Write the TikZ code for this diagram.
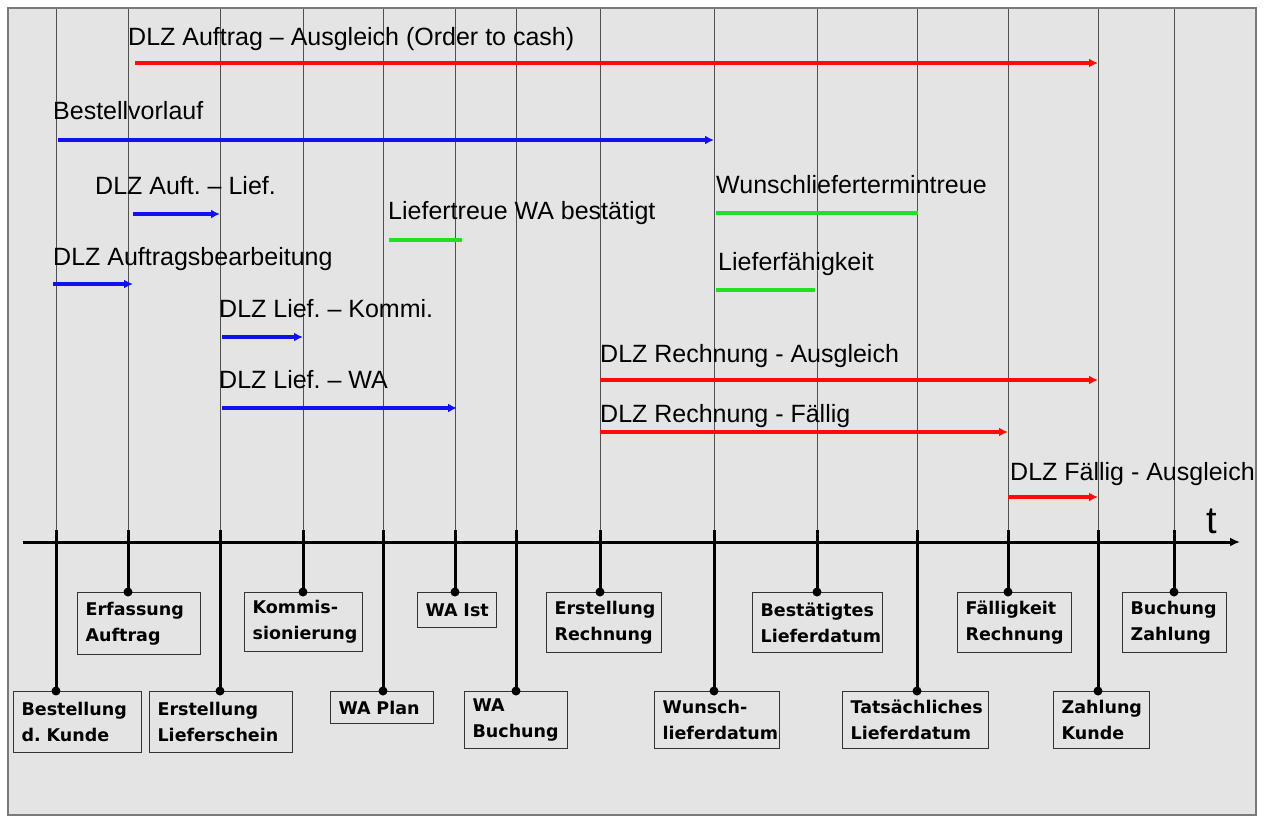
\documentclass[tikz,border=0pt]{standalone}
\usepackage{fontspec}
\setmainfont{Liberation Sans}
\newfontfamily\boxfont{DejaVu Sans}
\usetikzlibrary{arrows.meta}
\frenchspacing
\definecolor{bgcol}{HTML}{E4E4E4}
\definecolor{framecol}{HTML}{7A7A7A}
\definecolor{gridcol}{HTML}{505050}
\definecolor{myred}{HTML}{FF0A0A}
\definecolor{myblue}{HTML}{1010F0}
\definecolor{mygreen}{HTML}{20E020}
\tikzset{
  lbl/.style={anchor=base west, inner sep=0pt, font=\fontsize{25}{30}\selectfont},
  thinv/.style={draw=gridcol, line width=1pt},
  stem/.style={draw=black, line width=3pt},
  dotc/.style={fill=black},
  evbox/.style={draw=black!80, line width=1.2pt, anchor=north west, align=left,
    inner xsep=8pt, inner ysep=2pt, font=\boxfont\bfseries\fontsize{17.5}{26}\selectfont},
  arr/.style={line width=3.5pt, -{Latex[length=9pt,width=9pt]}},
  redarr/.style={arr, draw=myred},
  bluearr/.style={arr, draw=myblue},
  greenln/.style={line width=3.5pt, draw=mygreen},
}
\begin{document}
\begin{tikzpicture}[x=1pt,y=-1pt]
\useasboundingbox (0,0) rectangle (1266,817);
\fill[white] (0,0) rectangle (1266,817);
\draw[draw=framecol, fill=bgcol, line width=1.5pt] (8,8) rectangle (1256,815);

% thin vertical time lines
\foreach \n/\x in {A/56,B/128,C/220,D/303,E/383,F/455,G/516,H/600,I/714,J/817,K/917,L/1008,M/1098,N/1174}{
  \coordinate (top\n) at (\x,9);
  \coordinate (ax\n) at (\x,542);
  \coordinate (k\n) at (\x,530);
  \draw[thinv] (top\n) -- (ax\n);
}

% time axis
\coordinate (axs) at (23,542);
\coordinate (axe) at (1240,542);
\draw[line width=3pt, -{Latex[length=10pt,width=9pt]}] (axs) -- (axe);
\node[anchor=base west, inner sep=0pt, font=\fontsize{38}{40}\selectfont] (tlab) at (1206,533) {t};

% event boxes, upper row
\node[evbox, minimum width=123pt, minimum height=62pt, text width=107pt] (bB) at (77,592) {Erfassung\\Auftrag};
\node[evbox, minimum width=118pt, minimum height=59pt, text width=102pt] (bD) at (244,592) {Kommis-\\sionierung};
\node[evbox, minimum width=79pt, minimum height=35pt, text width=63pt] (bF) at (417,592) {WA~Ist};
\node[evbox, minimum width=115pt, minimum height=60pt, text width=99pt] (bH) at (546,592) {Erstellung\\Rechnung};
\node[evbox, minimum width=130pt, minimum height=60pt, text width=114pt] (bJ) at (752,592) {Bestätigtes\\Lieferdatum};
\node[evbox, minimum width=114pt, minimum height=60pt, text width=98pt] (bL) at (957,592) {Fälligkeit\\Rechnung};
\node[evbox, minimum width=104pt, minimum height=60pt, text width=88pt] (bN) at (1122,592) {Buchung\\Zahlung};
% lower row
\node[evbox, minimum width=128pt, minimum height=61pt, text width=112pt] (bA) at (13,691) {Bestellung\\d. Kunde};
\node[evbox, minimum width=143pt, minimum height=61pt, text width=127pt] (bC) at (149,691) {Erstellung\\Lieferschein};
\node[evbox, minimum width=103pt, minimum height=32pt, text width=87pt] (bE) at (330,691) {WA~Plan};
\node[evbox, minimum width=103pt, minimum height=57pt, text width=87pt] (bG) at (464,691) {WA\\Buchung};
\node[evbox, minimum width=125pt, minimum height=57pt, text width=109pt] (bI) at (654,691) {Wunsch-\\lieferdatum};
\node[evbox, minimum width=146pt, minimum height=57pt, text width=130pt] (bK) at (842,691) {Tatsächliches\\Lieferdatum};
\node[evbox, minimum width=96pt, minimum height=57pt, text width=80pt] (bM) at (1053,691) {Zahlung\\Kunde};

% stems with dots
\foreach \n in {A,B,C,D,E,F,G,H,I,J,K,L,M,N}{
  \draw[stem] (k\n) -- (k\n |- b\n.north);
  \fill[dotc] (k\n |- b\n.north) circle (4.5);
}

% durations
\node[lbl] (l1) at (128,45) {DLZ Auftrag – Ausgleich (Order to cash)};
\coordinate (s1) at (135,63); \coordinate (e1) at (1098,63);
\draw[redarr] (s1) -- (e1);

\node[lbl] (l2) at (53,119) {Bestellvorlauf};
\coordinate (s2) at (58,140); \coordinate (e2) at (714,140);
\draw[bluearr] (s2) -- (e2);

\node[lbl] (l3) at (95,194) {DLZ Auft. – Lief.};
\coordinate (s3) at (133,214); \coordinate (e3) at (220,214);
\draw[bluearr] (s3) -- (e3);

\node[lbl] (l4) at (388,219) {Liefertreue WA bestätigt};
\coordinate (s4) at (389,240); \coordinate (e4) at (462,240);
\draw[greenln] (s4) -- (e4);

\node[lbl] (l5) at (53,265) {DLZ Auftragsbearbeitung};
\coordinate (s5) at (53,284); \coordinate (e5) at (133,284);
\draw[bluearr] (s5) -- (e5);

\node[lbl] (l6) at (219,317) {DLZ Lief. – Kommi.};
\coordinate (s6) at (222,337); \coordinate (e6) at (303,337);
\draw[bluearr] (s6) -- (e6);

\node[lbl] (l7) at (219,388) {DLZ Lief. – WA};
\coordinate (s7) at (222,408); \coordinate (e7) at (457,408);
\draw[bluearr] (s7) -- (e7);

\node[lbl] (l8) at (716,193) {Wunschliefertermintreue};
\coordinate (s8) at (716,213); \coordinate (e8) at (918,213);
\draw[greenln] (s8) -- (e8);

\node[lbl] (l9) at (718,270) {Lieferfähigkeit};
\coordinate (s9) at (716,290); \coordinate (e9) at (815,290);
\draw[greenln] (s9) -- (e9);

\node[lbl] (l10) at (600,362) {DLZ Rechnung - Ausgleich};
\coordinate (s10) at (600,380); \coordinate (e10) at (1098,380);
\draw[redarr] (s10) -- (e10);

\node[lbl] (l11) at (600,422) {DLZ Rechnung - Fällig};
\coordinate (s11) at (600,432); \coordinate (e11) at (1008,432);
\draw[redarr] (s11) -- (e11);

\node[lbl] (l12) at (1010,480) {DLZ Fällig - Ausgleich};
\coordinate (s12) at (1008,497); \coordinate (e12) at (1098,497);
\draw[redarr] (s12) -- (e12);
\end{tikzpicture}
\end{document}
